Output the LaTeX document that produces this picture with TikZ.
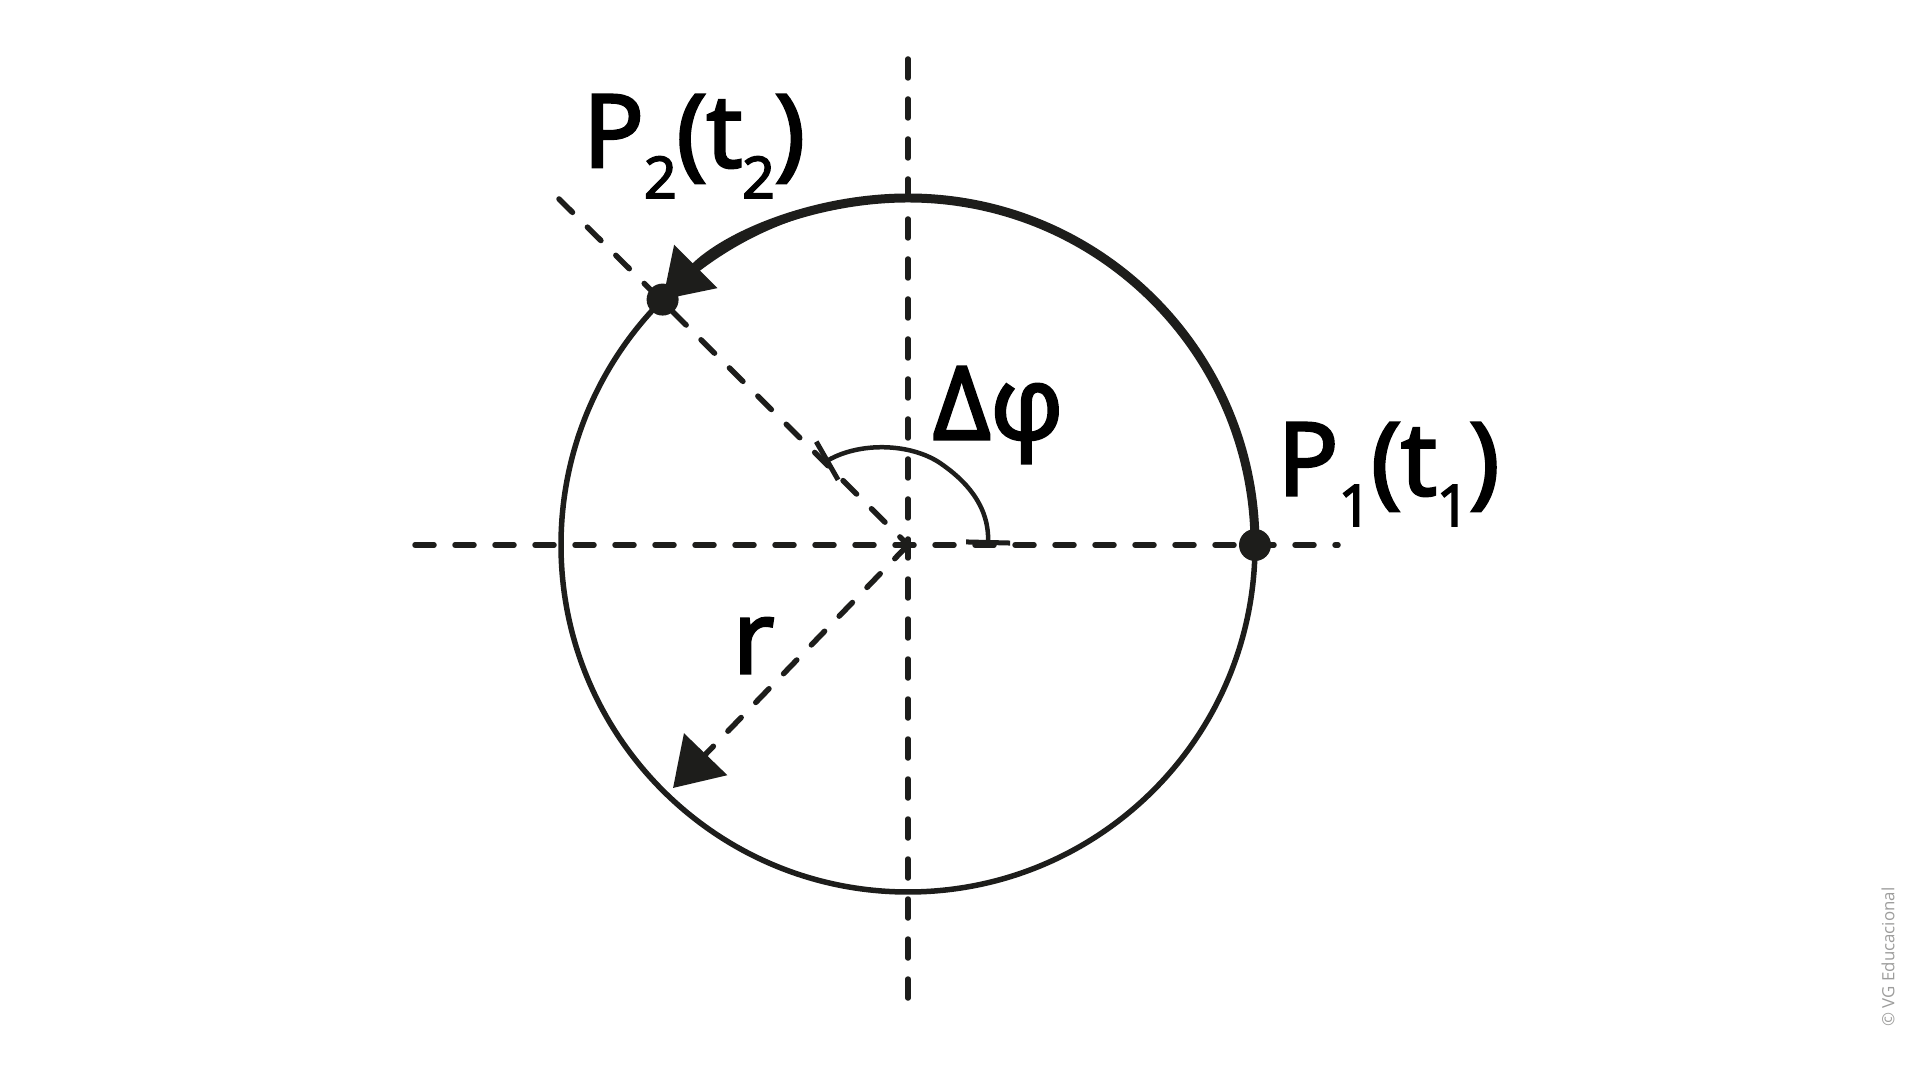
\documentclass[tikz,border=0pt]{standalone}
\usepackage{fontspec}
\setmainfont{Open Sans}
\newfontfamily\tagfont{Open Sans}[FakeBold=3]
\usetikzlibrary{arrows.meta}
\definecolor{ink}{RGB}{29,29,27}
\definecolor{creditgray}{RGB}{157,157,156}
\newcommand{\lowidx}[1]{\raisebox{-0.31cm}{\fontsize{16.3}{18}\selectfont #1}}
\tikzset{
  guide/.style={ink,line width=0.055cm,dash pattern=on 0.19cm off 0.21cm,line cap=round},
  tag/.style={inner sep=0pt,anchor=base,font=\tagfont\fontsize{28.7}{32}\selectfont},
  ptdot/.style={circle,fill=ink,inner sep=0pt,minimum size=0.32cm},
  bigtip/.style={-{Triangle[length=0.47cm,width=0.59cm]}},
  anglebars/.style={{Bar[width=0.44cm,line width=0.05cm]}-{Bar[width=0.44cm,line width=0.05cm]}}
}

\begin{document}
\begin{tikzpicture}
\useasboundingbox (0,0) rectangle (19.2,10.8);
\coordinate (O) at (9.08,5.35);
\coordinate (W) at (4.15,5.35);
\coordinate (E) at (13.38,5.35);
\coordinate (N) at (9.08,10.21);
\coordinate (S) at (9.08,0.78);
\coordinate (D) at (5.59,8.81);
\coordinate (R) at (6.73,2.92);
\coordinate (p1) at (12.55,5.35);
\coordinate (p2) at (6.626,7.804);
\draw[guide] (W) -- (E);
\draw[guide] (N) -- (S);
\draw[guide] (D) -- (O);
\draw[guide,bigtip] (O) -- (R);
\draw[ink,line width=0.055cm] (O) circle[radius=3.47];
\draw[ink,line width=0.09cm,bigtip] (p1) arc[start angle=0,end angle=135,radius=3.47];
\draw[ink,line width=0.045cm,anglebars] (9.88,5.35)
  .. controls (9.89,5.75) and (9.65,6.00) .. (9.40,6.17)
  .. controls (9.10,6.37) and (8.60,6.38) .. (8.25,6.18);
\node[ptdot] (P1) at (p1) {};
\node[ptdot] (P2) at (p2) {};
\node[tag] (lP2) at (6.94,9.13) {P\lowidx{2}(t\lowidx{2})};
\node[tag] (lP1) at (13.885,5.85) {P\lowidx{1}(t\lowidx{1})};
\node[tag] (lphi) at (9.98,6.41) {Δφ};
\node[tag] (lr) at (7.535,4.07) {r};
\node[rotate=90,text=creditgray,font=\fontsize{4.8}{6}\selectfont,inner sep=0pt] (credit) at (18.88,1.23) {© VG Educacional};
\end{tikzpicture}
\end{document}
